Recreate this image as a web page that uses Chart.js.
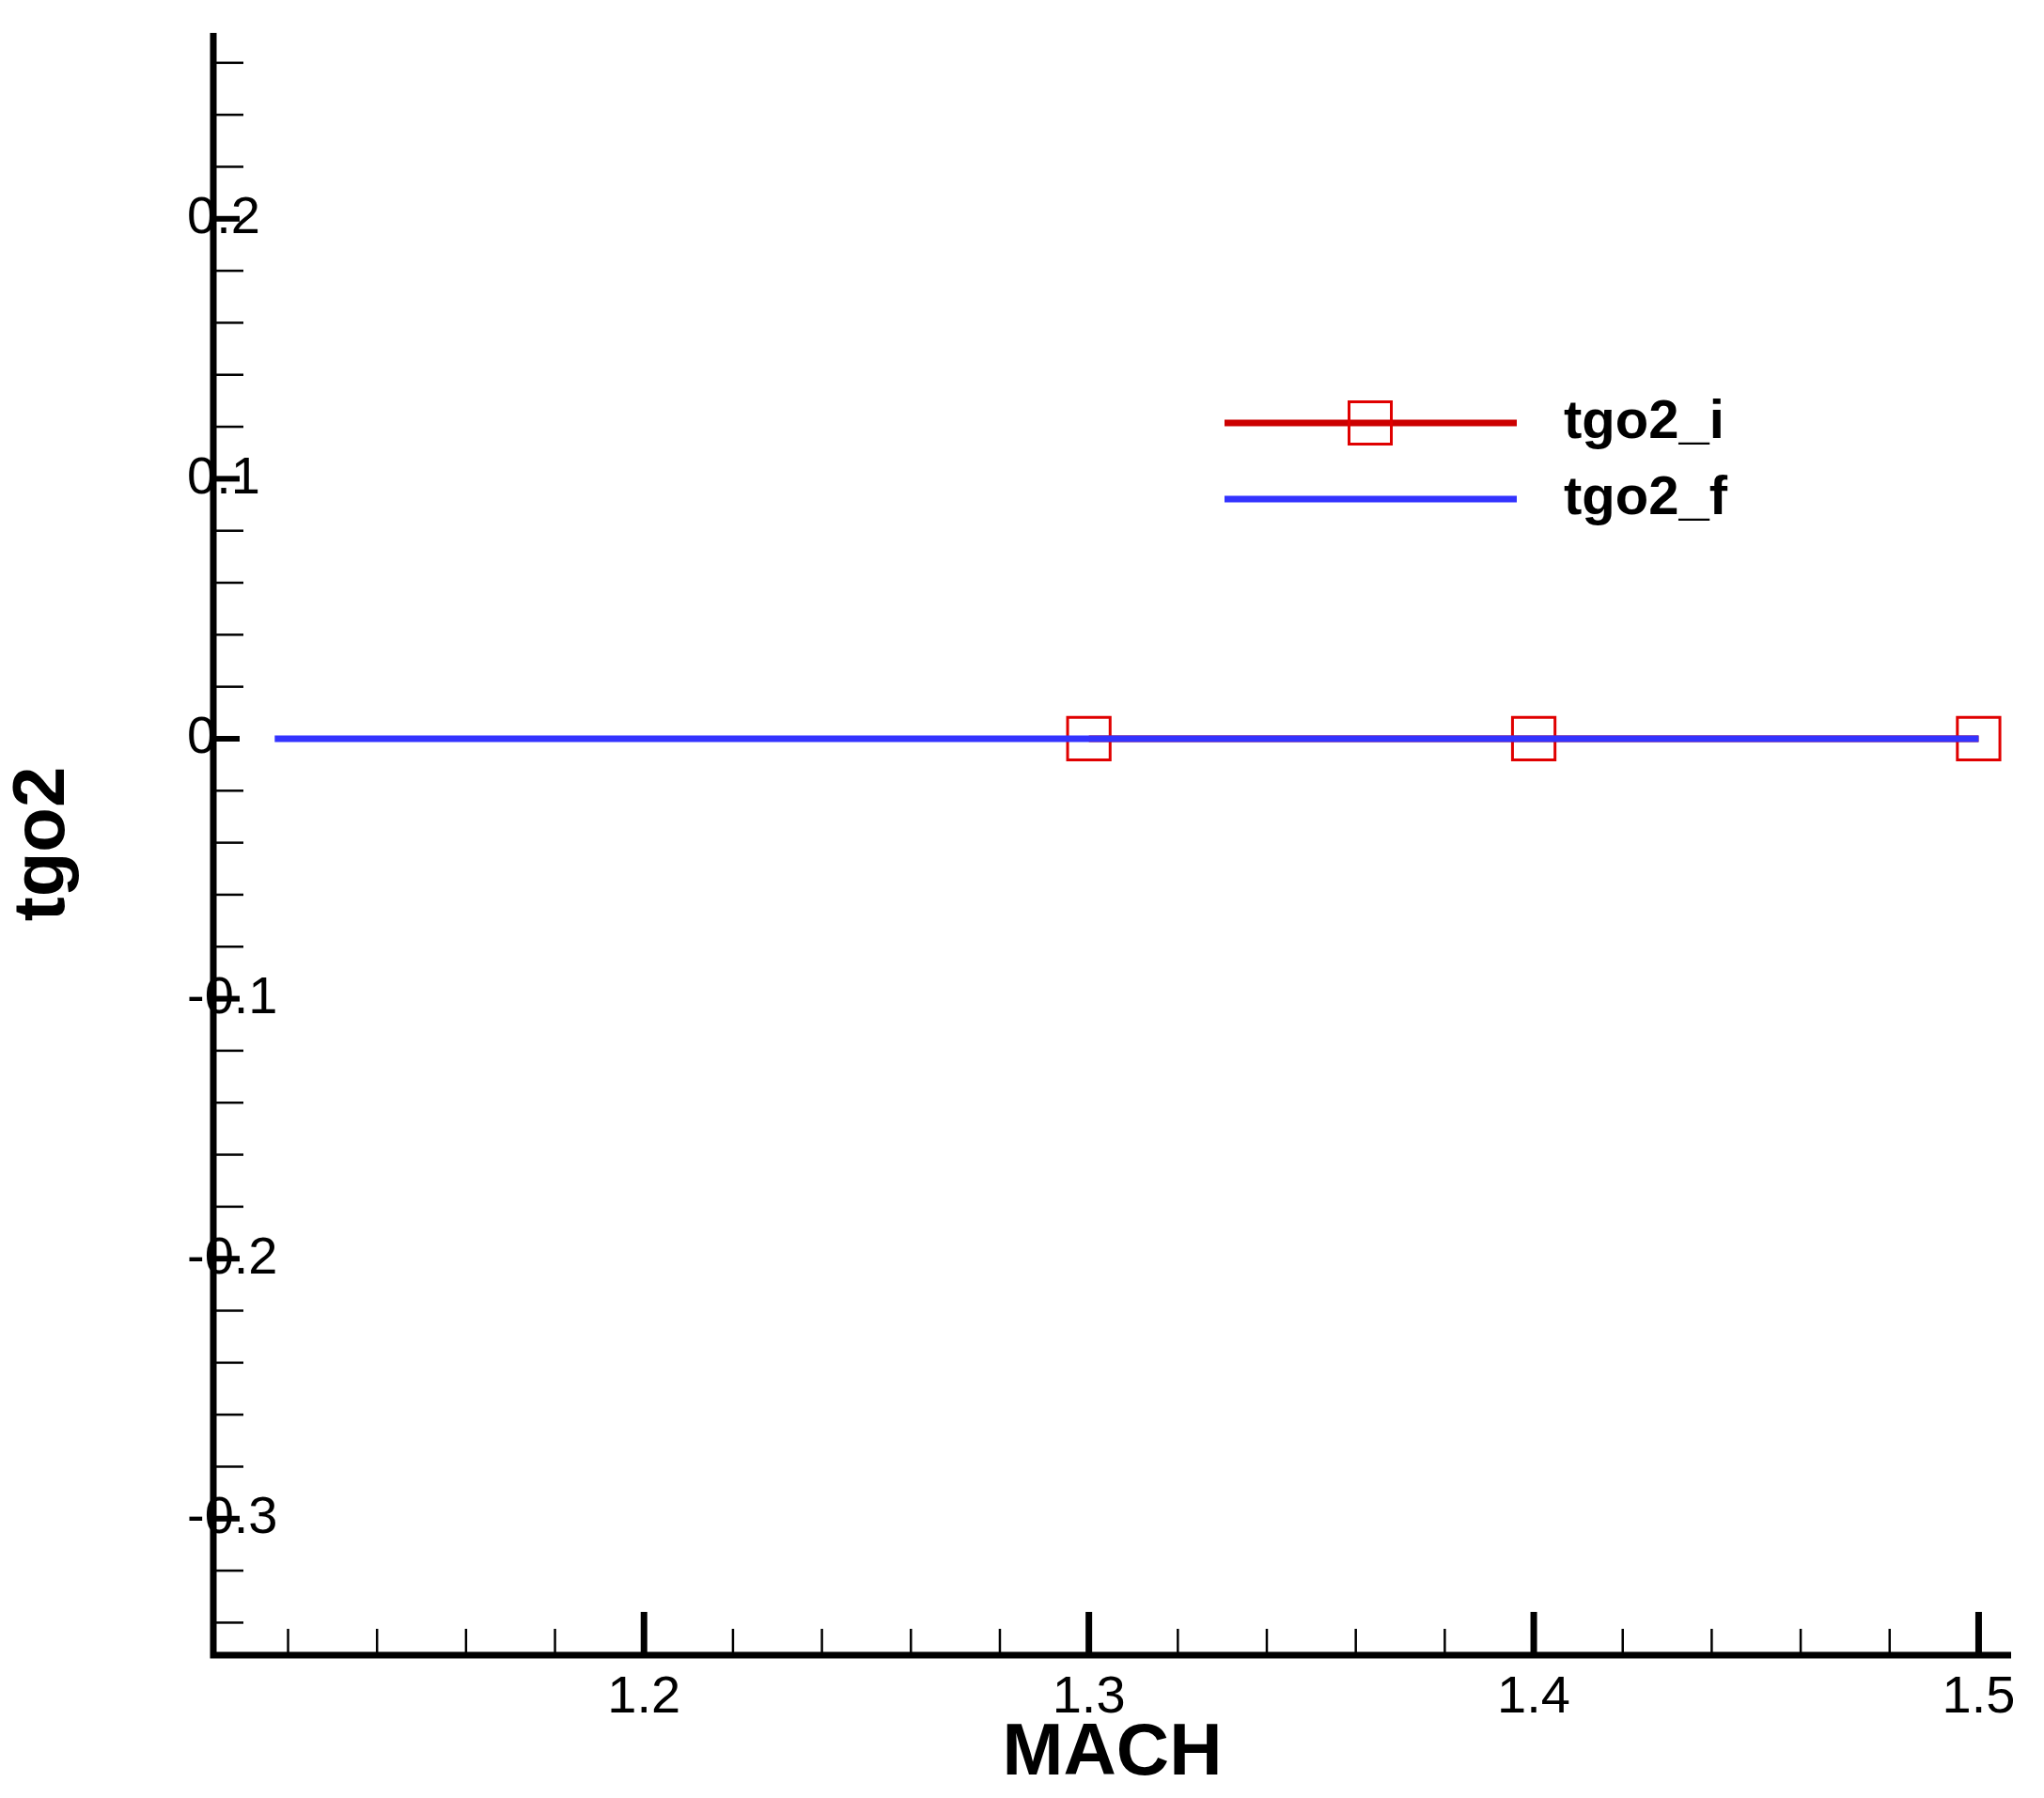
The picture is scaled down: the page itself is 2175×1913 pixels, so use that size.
<!DOCTYPE html>
<html><head><meta charset="utf-8">
<script src="https://cdn.jsdelivr.net/npm/chart.js@4"></script>
<style>html,body{margin:0;padding:0;background:#fff}</style>
</head><body>
<canvas id="c" width="2175" height="1913"></canvas>
<script>
const machI = [1.3, 1.4, 1.5];
const tgo2I = [0, 0, 0];
const machF = [1.117, 1.5];
const tgo2F = [0, 0];
const yTicks = [-0.3, -0.2, -0.1, 0, 0.1, 0.2];
const xTicks = [1.2, 1.3, 1.4, 1.5];
const seriesNames = ['tgo2_i', 'tgo2_f'];

const FONT = 'Arial, "Liberation Sans", sans-serif';

const tickPlugin = {
  id: 'ticks',
  afterDraw(chart) {
    const ctx = chart.ctx, xs = chart.scales.x, ys = chart.scales.y, a = chart.chartArea;
    ctx.save();
    ctx.strokeStyle = '#000';
    // axes
    ctx.lineWidth = 7;
    ctx.beginPath();
    ctx.moveTo(a.left, a.top); ctx.lineTo(a.left, a.bottom); ctx.lineTo(a.right, a.bottom);
    ctx.stroke();
    // y ticks
    for (let i = -17; i <= 13; i++) {
      const v = i * 0.02;
      const p = ys.getPixelForValue(v);
      if (p < a.top || p > a.bottom) continue;
      const major = i % 5 === 0;
      ctx.lineWidth = major ? 6 : 2.5;
      ctx.beginPath(); ctx.moveTo(a.left, p); ctx.lineTo(a.left + (major ? 28 : 32), p); ctx.stroke();
    }
    for (let i = 56; i <= 75; i++) {
      const v = i * 0.02;
      const p = xs.getPixelForValue(v);
      if (p < a.left || p > a.right) continue;
      const major = i % 5 === 0;
      ctx.lineWidth = major ? 7 : 2.5;
      ctx.beginPath(); ctx.moveTo(p, a.bottom); ctx.lineTo(p, a.bottom - (major ? 46 : 28)); ctx.stroke();
    }
    // legend
    const ds = chart.data.datasets;
    const rows = [450, 531];
    ds.forEach((d, k) => {
      const y = rows[k];
      ctx.strokeStyle = d.borderColor; ctx.lineWidth = 7;
      ctx.beginPath(); ctx.moveTo(1303, y); ctx.lineTo(1614, y); ctx.stroke();
      if (d.pointRadius > 0) {
        ctx.lineWidth = 3; ctx.strokeStyle = d.pointBorderColor;
        ctx.strokeRect(1458 - 22.5, y - 22.5, 45, 45);
      }
      ctx.fillStyle = '#000'; ctx.font = 'bold 58px ' + FONT;
      ctx.textBaseline = 'middle'; ctx.textAlign = 'left';
      ctx.fillText(d.label, 1664, y);
    });
    ctx.restore();
  }
};

new Chart(document.getElementById('c'), {
  type: 'line',
  data: {
    datasets: [
      { label: seriesNames[0], data: machI.map((x, i) => ({x, y: tgo2I[i]})),
        borderColor: '#cc0000', borderWidth: 7, pointStyle: 'rect', pointRadius: 32,
        pointBorderColor: '#e00000', pointBorderWidth: 3, pointBackgroundColor: 'rgba(0,0,0,0)', order: 2 },
      { label: seriesNames[1], data: machF.map((x, i) => ({x, y: tgo2F[i]})),
        borderColor: '#3333ff', borderWidth: 7, pointRadius: 0, order: 1 }
    ]
  },
  options: {
    responsive: false, animation: false,
    layout: { padding: { top: 21, right: 21, left: 0, bottom: 0 } },
    plugins: { legend: { display: false }, tooltip: { enabled: false } },
    scales: {
      x: {
        type: 'linear', min: 1.1032, max: 1.5073,
        afterBuildTicks: s => { s.ticks = xTicks.map(v => ({value: v})); },
        afterFit: s => { s.height = 152; },
        grid: { display: false }, border: { display: false },
        ticks: { color: '#000', font: { size: 56, family: FONT }, padding: 4, maxRotation: 0,
                 callback: v => v.toFixed(1) },
        title: { display: true, text: 'MACH', color: '#000', font: { size: 78, weight: 'bold', family: FONT }, padding: 0 }
      },
      y: {
        min: -0.3525, max: 0.2715,
        afterBuildTicks: s => { s.ticks = yTicks.map(v => ({value: v})); },
        afterFit: s => { s.width = 227; },
        grid: { display: false }, border: { display: false },
        ticks: { color: '#000', font: { size: 56, family: FONT }, mirror: true, padding: -28,
                 callback: v => v === 0 ? '0' : v.toFixed(1) },
        title: { display: true, text: 'tgo2', color: '#000', font: { size: 78, weight: 'bold', family: FONT }, padding: 0 }
      }
    }
  },
  plugins: [tickPlugin]
});
</script>
</body></html>
